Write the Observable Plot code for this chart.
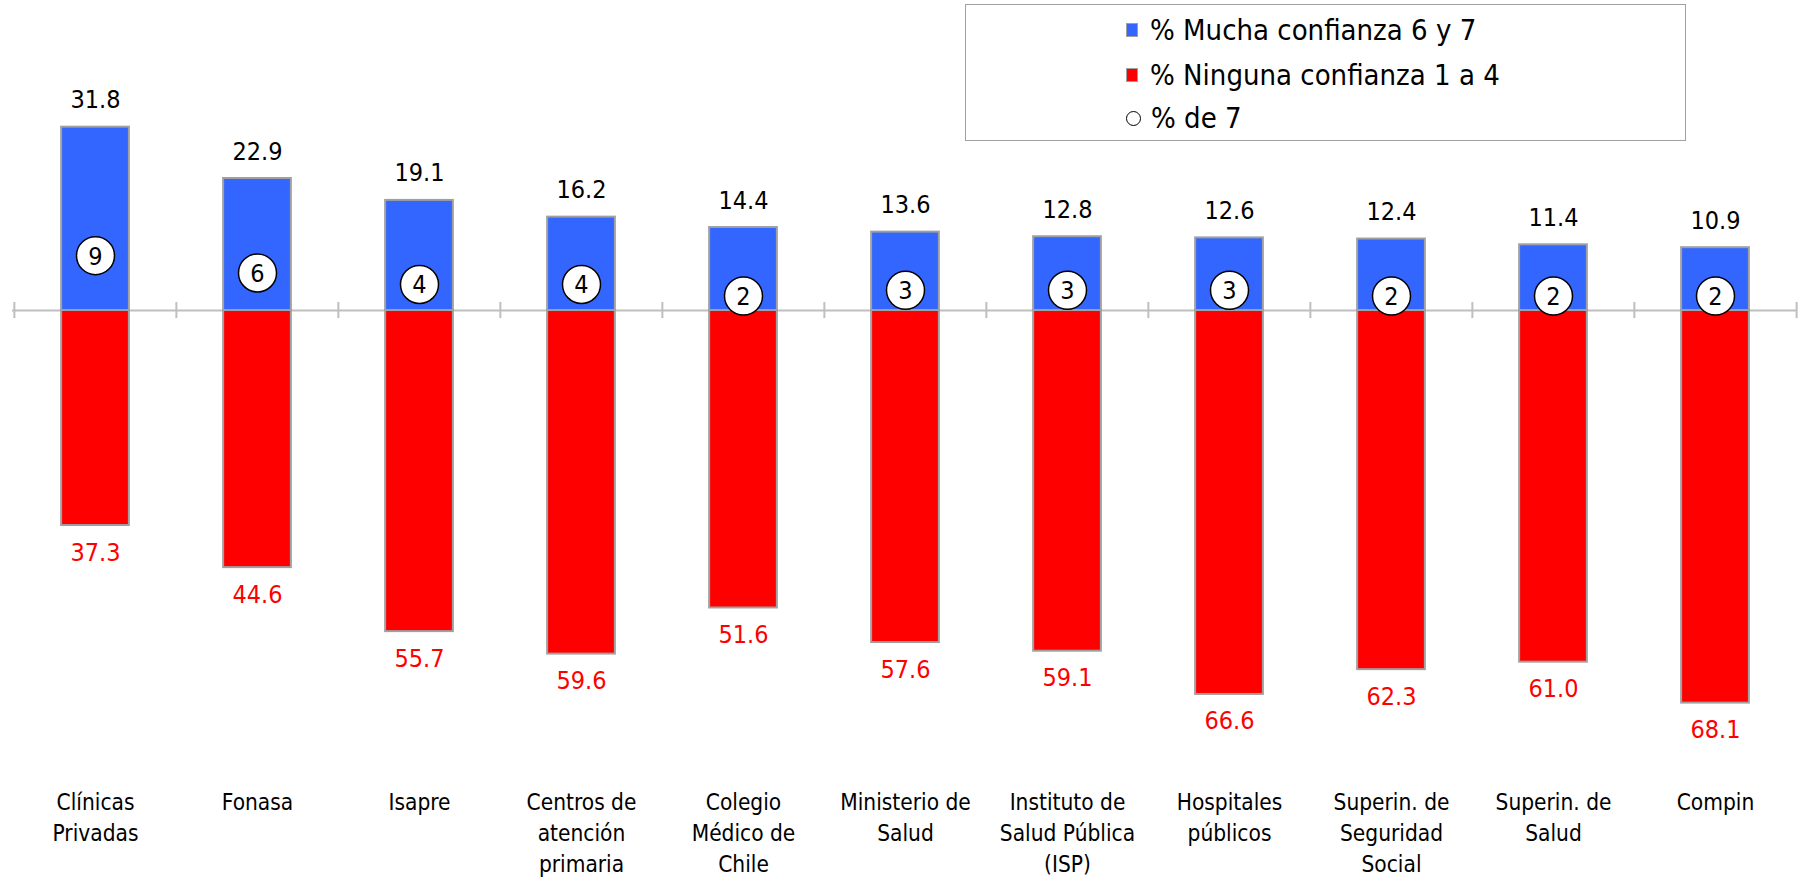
<!DOCTYPE html>
<html><head><meta charset="utf-8">
<script src="https://cdn.jsdelivr.net/npm/d3@7"></script>
<script src="https://cdn.jsdelivr.net/npm/@observablehq/plot@0.6"></script>
<style>
body{margin:0;background:#fff;}
#wrap{position:relative;width:1806px;height:878px;font-family:"DejaVu Sans Condensed","DejaVu Sans",sans-serif;font-stretch:condensed;}
#wrap svg{font-family:"DejaVu Sans Condensed","DejaVu Sans",sans-serif;font-stretch:condensed;}
#legend{position:absolute;left:965px;top:4px;width:721px;height:137px;box-sizing:border-box;border:1.5px solid #a0a0a0;background:#fff;}
.row{position:absolute;left:160px;font-size:29px;display:flex;align-items:center;height:34px;color:#000;white-space:nowrap;}
.sw{display:inline-block;width:12px;height:14px;box-sizing:border-box;border:1.5px solid #a0a0a0;margin-right:12px;}
.ring{display:inline-block;width:15px;height:15px;box-sizing:border-box;border:1.5px solid #000;border-radius:50%;margin-right:10px;background:#fff;}
</style></head>
<body>
<div id="wrap">
  <div id="chart"></div>
  <div id="legend"></div>
</div>
<script>
const categories = ["Clínicas\nPrivadas","Fonasa","Isapre","Centros de\natención\nprimaria","Colegio\nMédico de\nChile","Ministerio de\nSalud","Instituto de\nSalud Pública\n(ISP)","Hospitales\npúblicos","Superin. de\nSeguridad\nSocial","Superin. de\nSalud","Compin"];
const mucha = [31.8,22.9,19.1,16.2,14.4,13.6,12.8,12.6,12.4,11.4,10.9];
const ninguna = [37.3,44.6,55.7,59.6,51.6,57.6,59.1,66.6,62.3,61.0,68.1];
const pct7 = [9,6,4,4,2,3,3,3,2,2,2];
const seriesNames = ["% Mucha confianza 6 y 7","% Ninguna confianza 1 a 4","% de 7"];
const colors = ["#3366ff","#ff0000"];

const rows = categories.map((c,i)=>({c, mucha:mucha[i], ninguna:ninguna[i], p7:pct7[i]}));

const W = 1806, H = 878, ml = 12, mr = 9;
const half = (W - ml - mr) / categories.length / 2;
const barHalf = 34;
const inset = half - barHalf;
const FONT = '"DejaVu Sans Condensed","DejaVu Sans",sans-serif';

const chart = Plot.plot({
  width: W, height: H,
  marginLeft: ml, marginRight: mr, marginTop: 50.6, marginBottom: 106.8,
  style: {fontFamily: FONT, background: "#fff"},
  x: {domain: categories, padding: 0, axis: null},
  y: {domain: [-80, 45], axis: null},
  marks: [
    Plot.ruleY([0], {stroke: "#bfbfbf", strokeWidth: 2}),
    Plot.ruleX(categories, {x: d=>d, y1: -1.4, y2: 1.4, dx: -half, stroke: "#bfbfbf", strokeWidth: 2}),
    Plot.ruleX(categories.slice(-1), {x: d=>d, y1: -1.4, y2: 1.4, dx: half, stroke: "#bfbfbf", strokeWidth: 2}),
    Plot.barY(rows, {x: "c", y1: 0, y2: "mucha", fill: colors[0], stroke: "#a0a0a0", strokeWidth: 2, insetLeft: inset, insetRight: inset}),
    Plot.barY(rows, {x: "c", y1: 0, y2: d=>-d.ninguna, fill: colors[1], stroke: "#a0a0a0", strokeWidth: 2, insetLeft: inset, insetRight: inset}),
    Plot.text(rows, {x: "c", y: "mucha", text: d=>d.mucha.toFixed(1), dy: -27, fontSize: 25, fill: "#000"}),
    Plot.text(rows, {x: "c", y: d=>-d.ninguna, text: d=>d.ninguna.toFixed(1), dy: 27, fontSize: 25, fill: "#ff0000"}),
    Plot.dot(rows, {x: "c", y: "p7", dy: -3, r: 19, fill: "#fff", stroke: "#000", strokeWidth: 1.5}),
    Plot.text(rows, {x: "c", y: "p7", dy: -2, text: d=>String(d.p7), fontSize: 25, fill: "#000"}),
    Plot.axisX({domain: categories, anchor: "bottom", tickSize: 0, tickPadding: 16, fontSize: 22.5, lineHeight: 1.38, lineAnchor: "top", fill: "#000", label: null})
  ]
});
document.getElementById("chart").appendChild(chart);

const legend = document.getElementById("legend");
const tops = [8, 53, 96];
seriesNames.forEach((name, i) => {
  const row = document.createElement("div");
  row.className = "row";
  row.style.top = tops[i] + "px";
  const m = document.createElement("span");
  if (i < 2) { m.className = "sw"; m.style.background = colors[i]; }
  else { m.className = "ring"; }
  row.appendChild(m);
  const t = document.createElement("span");
  t.textContent = name;
  row.appendChild(t);
  legend.appendChild(row);
});
</script>
</body></html>
